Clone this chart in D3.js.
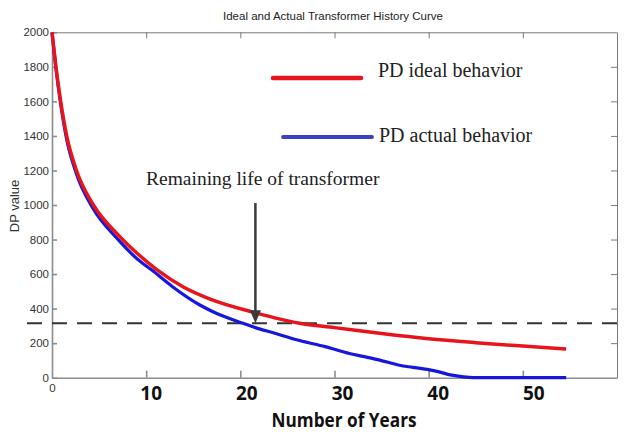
<!DOCTYPE html>
<html>
<head>
<meta charset="utf-8">
<script src="https://cdn.jsdelivr.net/npm/d3@7"></script>
<style>
  body { margin: 0; background: #fff; }
  svg { display: block; }
</style>
</head>
<body>
<div id="chart"></div>
<script>
// values
var yearsIdeal = [0, 0.42, 0.92, 1.56, 2.6, 4.4, 7.2, 9.0, 11.2, 13.9, 16.8, 21.6, 26.3, 30, 35, 40, 45, 50, 54.6];
var dpIdeal = [2000, 1800, 1600, 1400, 1200, 1000, 817, 722, 623, 527, 455, 376, 315, 290, 256, 226, 203, 183, 166];

var yearsActual = [0, 0.42, 0.92, 1.56, 2.6, 4.3, 7.1, 9.0, 10.6, 12.8, 15.7, 17.5, 20.3, 21.6, 23.5, 26.3, 29, 31.6, 33.5, 34.8, 36.9, 38.3, 40.1, 41.2, 42.3, 43.5, 44.7, 54.6];
var dpActual = [2000, 1790, 1585, 1380, 1180, 985, 795, 690, 623, 527, 421, 372, 315, 290, 260, 215, 180, 140, 118, 102, 72, 60, 45, 32, 16, 6, 0, 0];

var xTicks = [0, 10, 20, 30, 40, 50];
var yTicks = [0, 200, 400, 600, 800, 1000, 1200, 1400, 1600, 1800, 2000];
var threshold = 315;
var arrowYear = 21.6, arrowTop = 1011;

var W = 627, H = 435;
var svg = d3.select("#chart").append("svg")
    .attr("width", W)
    .attr("height", H);

var x = d3.scaleLinear().domain([0, 60]).range([52, 617]);
var y = d3.scaleLinear().domain([0, 2000]).range([377.7, 32.3]);

var axisColor = "#8c8c8c";

// top and right frame with inward ticks
var top_ax = svg.append("g")
    .attr("transform", "translate(0," + y(2000) + ")")
    .call(d3.axisTop(x).tickValues(xTicks.slice(1)).tickSize(-6).tickSizeOuter(0).tickFormat(""));
var right_ax = svg.append("g")
    .attr("transform", "translate(" + x(60) + ",0)")
    .call(d3.axisRight(y).tickValues(yTicks.slice(1, -1)).tickSize(-6).tickSizeOuter(0).tickFormat(""));
[top_ax, right_ax].forEach(function(g) {
  g.selectAll("path,line").attr("stroke", "#7a7a7a").attr("stroke-width", 1);
});

// left axis
var left_ax = svg.append("g")
    .attr("transform", "translate(" + x(0) + ",0)")
    .call(d3.axisLeft(y).tickValues(yTicks).tickSize(-5).tickSizeOuter(0).tickPadding(3).tickFormat(d3.format("d")));
left_ax.selectAll("path,line").attr("stroke", axisColor).attr("stroke-width", 1.6);
left_ax.selectAll("text")
    .attr("fill", "#333")
    .style("font-family", "'Liberation Sans', Arial, sans-serif")
    .style("font-size", "11.5px");

// bottom axis
var bottom_ax = svg.append("g")
    .attr("transform", "translate(0," + y(0) + ")")
    .call(d3.axisBottom(x).tickValues(xTicks).tickSize(-7).tickSizeOuter(0));
bottom_ax.selectAll("path,line").attr("stroke", axisColor).attr("stroke-width", 1.6);
bottom_ax.selectAll(".tick").filter(function(d) { return d === 0; }).select("line").remove();
bottom_ax.selectAll("text").each(function(d) {
  var t = d3.select(this);
  if (d === 0) {
    t.attr("y", 6.5)
      .attr("fill", "#333")
      .style("font-family", "'Liberation Sans', Arial, sans-serif")
      .style("font-size", "11.5px");
  } else {
    t.attr("y", 8.5)
      .attr("x", 3 + d * 0.15)
      .attr("fill", "#111")
      .style("font-family", "'Open Sans', sans-serif")
      .style("font-weight", "bold")
      .style("font-size", "19px");
  }
});

// threshold dashed line
svg.append("line")
    .attr("x1", 27).attr("x2", W)
    .attr("y1", y(threshold)).attr("y2", y(threshold))
    .attr("stroke", "#333")
    .attr("stroke-width", 2)
    .attr("stroke-dasharray", "15,10");

// curves
var line = d3.line()
    .x(function(d) { return x(d[0]); })
    .y(function(d) { return y(d[1]); })
    .curve(d3.curveMonotoneX);

svg.append("path")
    .datum(d3.zip(yearsActual, dpActual))
    .attr("d", line)
    .attr("fill", "none")
    .attr("stroke", "#1717dc")
    .attr("stroke-width", 3.2)
    .attr("stroke-linejoin", "round");

svg.append("path")
    .datum(d3.zip(yearsIdeal, dpIdeal))
    .attr("d", line)
    .attr("fill", "none")
    .attr("stroke", "#e8141c")
    .attr("stroke-width", 3.5)
    .attr("stroke-linejoin", "round");

// arrow for remaining life
var ax = x(arrowYear), ayTip = y(threshold);
svg.append("line")
    .attr("x1", ax).attr("x2", ax)
    .attr("y1", y(arrowTop)).attr("y2", ayTip - 10)
    .attr("stroke", "#3a3a3a")
    .attr("stroke-width", 2.5);
svg.append("path")
    .attr("d", "M" + (ax - 5.5) + "," + (ayTip - 13) + "L" + (ax + 5.5) + "," + (ayTip - 13) + "L" + ax + "," + ayTip + "Z")
    .attr("fill", "#3a3a3a");

svg.append("text")
    .attr("x", 146).attr("y", 185)
    .attr("fill", "#222")
    .style("font-family", "'Liberation Serif', 'Times New Roman', serif")
    .style("font-size", "19.5px")
    .text("Remaining life of transformer");

// legend
var legend = [
  {name: "PD ideal behavior", color: "#e8141c", x1: 273, x2: 361, ly: 78, tx: 378, ty: 76.5, w: 4.5},
  {name: "PD actual behavior", color: "#3a40c8", x1: 283, x2: 372, ly: 137, tx: 379, ty: 142, w: 3.8}
];
legend.forEach(function(d) {
  svg.append("line")
      .attr("x1", d.x1).attr("x2", d.x2)
      .attr("y1", d.ly).attr("y2", d.ly)
      .attr("stroke", d.color)
      .attr("stroke-width", d.w)
      .attr("stroke-linecap", "round");
  svg.append("text")
      .attr("x", d.tx).attr("y", d.ty)
      .attr("fill", "#222")
      .style("font-family", "'Liberation Serif', 'Times New Roman', serif")
      .style("font-size", "20px")
      .text(d.name);
});

// titles
svg.append("text")
    .attr("x", 333).attr("y", 20)
    .attr("text-anchor", "middle")
    .attr("fill", "#222")
    .attr("textLength", 220)
    .attr("lengthAdjust", "spacingAndGlyphs")
    .style("font-family", "'Liberation Sans', Arial, sans-serif")
    .style("font-size", "11.5px")
    .text("Ideal and Actual Transformer History Curve");

svg.append("text")
    .attr("transform", "translate(19,206) rotate(-90)")
    .attr("text-anchor", "middle")
    .attr("fill", "#333")
    .style("font-family", "'Liberation Sans', Arial, sans-serif")
    .style("font-size", "13px")
    .text("DP value");

svg.append("text")
    .attr("x", 271.5).attr("y", 427)
    .attr("fill", "#111")
    .attr("textLength", 145)
    .attr("lengthAdjust", "spacingAndGlyphs")
    .style("font-family", "'Open Sans', sans-serif")
    .style("font-weight", "bold")
    .style("font-size", "20px")
    .text("Number of Years");
</script>
</body>
</html>
